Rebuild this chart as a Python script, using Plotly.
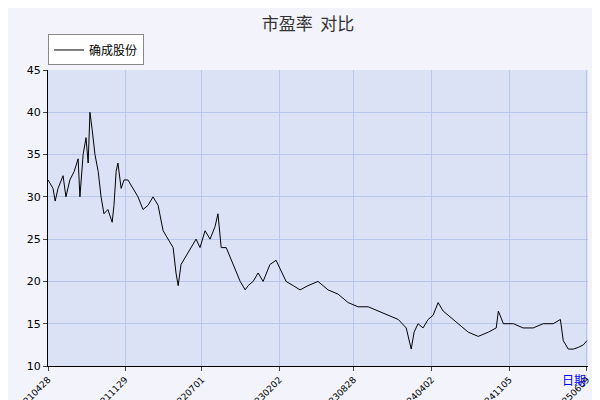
import plotly.graph_objects as go
import pandas as pd

start = "2021-04-28"
day_offsets = [0,14,20,28,42,50,61,73,84,89,98,106,112,117,123,131,140,148,156,167,179,184,190,195,204,212,223,237,251,265,279,293,307,321,335,349,357,363,371,385,399,413,424,438,452,466,474,483,497,516,536,550,558,572,586,600,619,636,647,664,684,703,725,753,781,809,837,865,893,921,949,977,999,1013,1021,1032,1046,1060,1074,1088,1102,1116,1144,1172,1200,1228,1250,1256,1270,1298,1325,1353,1381,1409,1429,1437,1451,1465,1479,1493,1503]
pe = [32,31,29.5,31,32.5,30,32,33,34.5,30,35,37,34,40,38,35,33,30,28,28.5,27,29,33,34,31,32,32,31,30,28.5,29,30,29,26,25,24,21,19.5,22,23,24,25,24,26,25,26.5,28,24,24,22,20,19,19.5,20,21,20,22,22.5,21.5,20,19.5,19,19.5,20,19,18.5,17.5,17,17,16.5,16,15.5,14.5,12,14,15,14.5,15.5,16,17.5,16.5,16,15,14,13.5,14,14.5,16.5,15,15,14.5,14.5,15,15,15.5,13,12,12,12.2,12.5,13]
tick_labels = ["20210428","20211129","20220701","20230202","20230828","20240402","20241105","20250609"]

dates = pd.Timestamp(start) + pd.to_timedelta(day_offsets, unit="D")
tickvals = [pd.Timestamp(t) for t in tick_labels]

fig = go.Figure(go.Scatter(x=dates, y=pe, mode="lines", name="确成股份",
                           line=dict(color="black", width=1)))
fig.update_layout(
    width=600, height=400, margin=dict(l=40, r=20, t=62, b=42, autoexpand=False),
    paper_bgcolor="#f3f4fb", plot_bgcolor="#dce2f6",
    title=dict(text="市盈率  对比", x=0.5, y=0.975, font=dict(size=17, color="#333", family="Noto Sans CJK SC")),
    showlegend=True,
    legend=dict(x=0.0, y=1.12, xanchor="left", yanchor="top", bgcolor="white",
                bordercolor="#888", borderwidth=1, itemwidth=30,
                font=dict(size=12, color="black", family="Noto Sans CJK SC")),
    font=dict(family="DejaVu Sans", size=11, color="black"),
)
fig.update_xaxes(range=[pd.Timestamp(start), pd.Timestamp("2025-06-12")], tickvals=tickvals, ticktext=tick_labels,
                 tickangle=-45, tickfont=dict(size=9), showgrid=True, gridcolor="#b9c6ec", automargin=False,
                 showline=True, linecolor="black", ticks="outside", ticklen=4)
fig.update_yaxes(range=[10, 45], dtick=5, showgrid=True, gridcolor="#b9c6ec", automargin=False,
                 showline=True, linecolor="black", ticks="outside", ticklen=4)
fig.add_annotation(text="日期", xref="paper", yref="paper", x=1.0, y=-0.08, showarrow=False,
                   font=dict(color="blue", size=12, family="Noto Sans CJK SC"))
fig.write_html("out.html")
